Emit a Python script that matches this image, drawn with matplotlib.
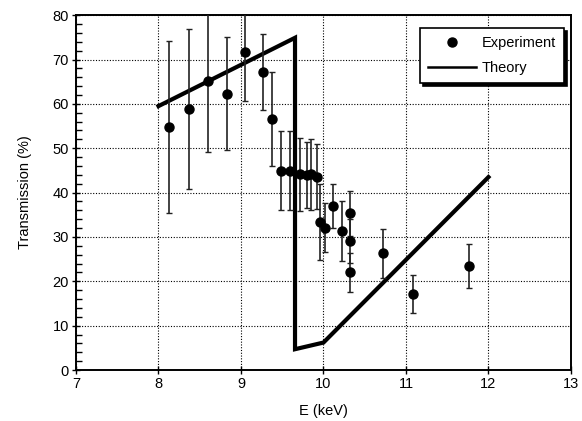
import matplotlib
matplotlib.use("Agg")
import matplotlib.pyplot as plt
from matplotlib.ticker import MultipleLocator
from matplotlib.lines import Line2D

plt.rcParams['font.family'] = ['Liberation Sans', 'DejaVu Sans']

# Experimental data
exp_E = [8.13, 8.37, 8.60, 8.83, 9.05, 9.27, 9.38, 9.49, 9.59, 9.72, 9.80, 9.85, 9.92,
         9.96, 10.02, 10.12, 10.22, 10.32, 10.32, 10.32, 10.72, 11.09, 11.76]
exp_T = [54.8, 58.9, 65.2, 62.3, 71.7, 67.2, 56.6, 44.9, 44.9, 44.1, 43.9, 44.1, 43.6,
         33.4, 32.1, 37.0, 31.3, 35.3, 29.1, 22.0, 26.3, 17.1, 23.4]
exp_err = [19.4, 18.0, 16.0, 12.7, 11.1, 8.6, 10.6, 8.9, 8.9, 8.3, 7.4, 8.0, 7.4,
           8.5, 5.5, 5.0, 6.8, 5.0, 5.0, 4.4, 5.5, 4.3, 5.0]

# Theory curve
th_E = [8.0, 9.655, 9.655, 10.0, 12.0]
th_T = [59.5, 74.9, 4.7, 6.2, 43.5]

fig = plt.figure(figsize=(5.82, 4.21), dpi=100)
ax = fig.add_axes([0.1306, 0.121, 0.981 - 0.1306, 0.964 - 0.121])

ax.set_xlim(7, 13)
ax.set_ylim(0, 80)
ax.xaxis.set_major_locator(MultipleLocator(1))
ax.yaxis.set_major_locator(MultipleLocator(10))
ax.yaxis.set_minor_locator(MultipleLocator(2))
ax.grid(True, which='major', linestyle=(0, (1, 1.5)), color='black', linewidth=0.8)
ax.set_axisbelow(True)

for s in ax.spines.values():
    s.set_linewidth(1.4)

ax.tick_params(axis='both', which='major', direction='inout', length=6, width=1.0,
               labelsize=10.5, pad=2)
ax.tick_params(axis='y', which='minor', direction='in', length=4, width=1.0)

th_line, = ax.plot(th_E, th_T, color='black', linewidth=3.0, solid_joinstyle='miter',
                   zorder=3)
ax.errorbar(exp_E, exp_T, yerr=exp_err, fmt='o', color='black', markersize=6.5,
            ecolor='#222222', elinewidth=1.2, capsize=2.2, capthick=1.0, zorder=4)

ax.set_xlabel('E (keV)', fontsize=10.5, labelpad=9)
ax.set_ylabel('Transmission (%)', fontsize=10.5, labelpad=15)

h_exp = Line2D([], [], marker='o', linestyle='none', color='black', markersize=6.5)
h_th = Line2D([], [], color='black', linewidth=1.8)
leg = ax.legend(handles=[h_exp, h_th], labels=['Experiment', 'Theory'],
                loc='upper right', bbox_to_anchor=(0.995, 0.975), fontsize=10.5,
                frameon=True, fancybox=False,
                shadow={'color': 'black', 'alpha': 1.0},
                handlelength=3.3, borderpad=0.55, labelspacing=0.75,
                handletextpad=0.4, borderaxespad=0.3)
leg.get_frame().set_edgecolor('black')
leg.get_frame().set_linewidth(1.2)
leg.set_zorder(10)

fig.savefig('out.png', dpi=100)
